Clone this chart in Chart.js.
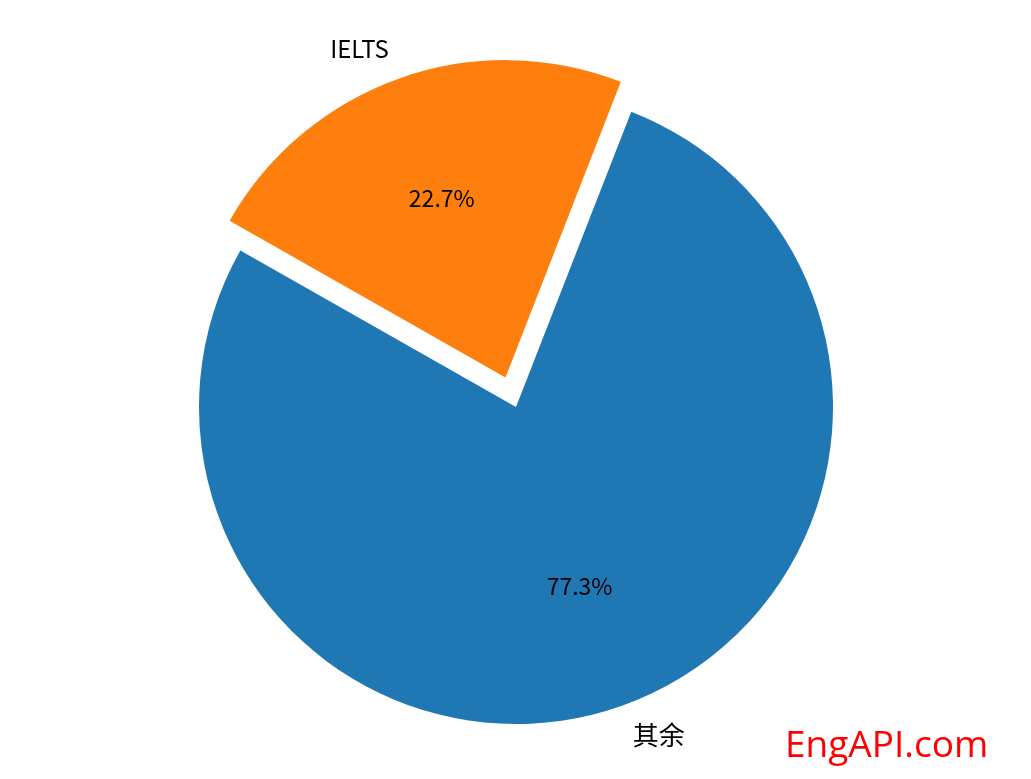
<!DOCTYPE html>
<html>
<head>
<meta charset="utf-8">
<script src="https://cdn.jsdelivr.net/npm/chart.js@4"></script>
<style>
  html, body { margin: 0; padding: 0; background: #fff; }
  #wrap { position: relative; width: 1031px; height: 779px; }
  #mark { position: absolute; left: 785px; top: 724px; font-family: "Open Sans", sans-serif; font-size: 37px; color: #ff0000; line-height: 1; }
</style>
</head>
<body>
<div id="wrap">
  <canvas id="chartPie" width="1031" height="779"></canvas>
  <div id="mark">EngAPI.com</div>
</div>
<script>
// ===== DATA =====
const labels = ['IELTS', '其余'];
const shares = [22.7, 77.3];
const colors = ['#ff7f0e', '#1f77b4'];
const explode = [0.1, 0];

const RADIUS = 317;
const LATIN_FONT = '24px "Noto Sans CJK SC", sans-serif';
const CJK_FONT = '26px "Noto Sans CJK SC", sans-serif';
const PCT_FONT = '23px "Noto Sans CJK SC", sans-serif';

// Chart.js arc offset moves a slice by offset/4 * (1 + fix), so undo that
const total = shares.reduce((a, b) => a + b, 0);
const offsets = shares.map((v, i) => {
  const circ = v / total * Math.PI * 2;
  const fix = 1 - Math.sin(Math.min(Math.PI, circ));
  return explode[i] * RADIUS * 4 / (1 + fix);
});

// matplotlib-like labels: name at 1.1r, percent at 0.6r
const pieLabels = {
  id: 'pieLabels',
  afterDatasetsDraw(chart) {
    const ctx = chart.ctx;
    const meta = chart.getDatasetMeta(0);
    meta.data.forEach((arc, i) => {
      const mid = (arc.startAngle + arc.endAngle) / 2;
      const circ = arc.endAngle - arc.startAngle;
      const fix = 1 - Math.sin(Math.min(Math.PI, circ));
      const shift = offsets[i] / 4 * (1 + fix);
      const cx = arc.x + Math.cos(mid) * shift;
      const cy = arc.y + Math.sin(mid) * shift;
      const r = arc.outerRadius;
      ctx.save();
      ctx.fillStyle = '#000';
      ctx.textBaseline = 'middle';
      const lx = cx + Math.cos(mid) * r * 1.1;
      const ly = cy + Math.sin(mid) * r * 1.1;
      ctx.font = /[\u4e00-\u9fff]/.test(labels[i]) ? CJK_FONT : LATIN_FONT;
      ctx.textAlign = lx < arc.x ? 'right' : 'left';
      ctx.fillText(labels[i], lx, ly);
      ctx.font = PCT_FONT;
      ctx.textAlign = 'center';
      ctx.fillText(shares[i].toFixed(1) + '%', cx + Math.cos(mid) * r * 0.6, cy + Math.sin(mid) * r * 0.6);
      ctx.restore();
    });
  }
};

new Chart(document.getElementById('chartPie'), {
  type: 'pie',
  data: {
    labels: labels,
    datasets: [{
      data: shares,
      backgroundColor: colors,
      borderWidth: 0,
      offset: offsets,
      hoverOffset: 0
    }]
  },
  options: {
    responsive: false,
    animation: false,
    rotation: -60.4,
    radius: RADIUS,
    layout: { padding: { top: 35, left: 1, right: 0, bottom: 0 } },
    plugins: { legend: { display: false }, tooltip: { enabled: false } },
    events: []
  },
  plugins: [pieLabels]
});
</script>
</body>
</html>
